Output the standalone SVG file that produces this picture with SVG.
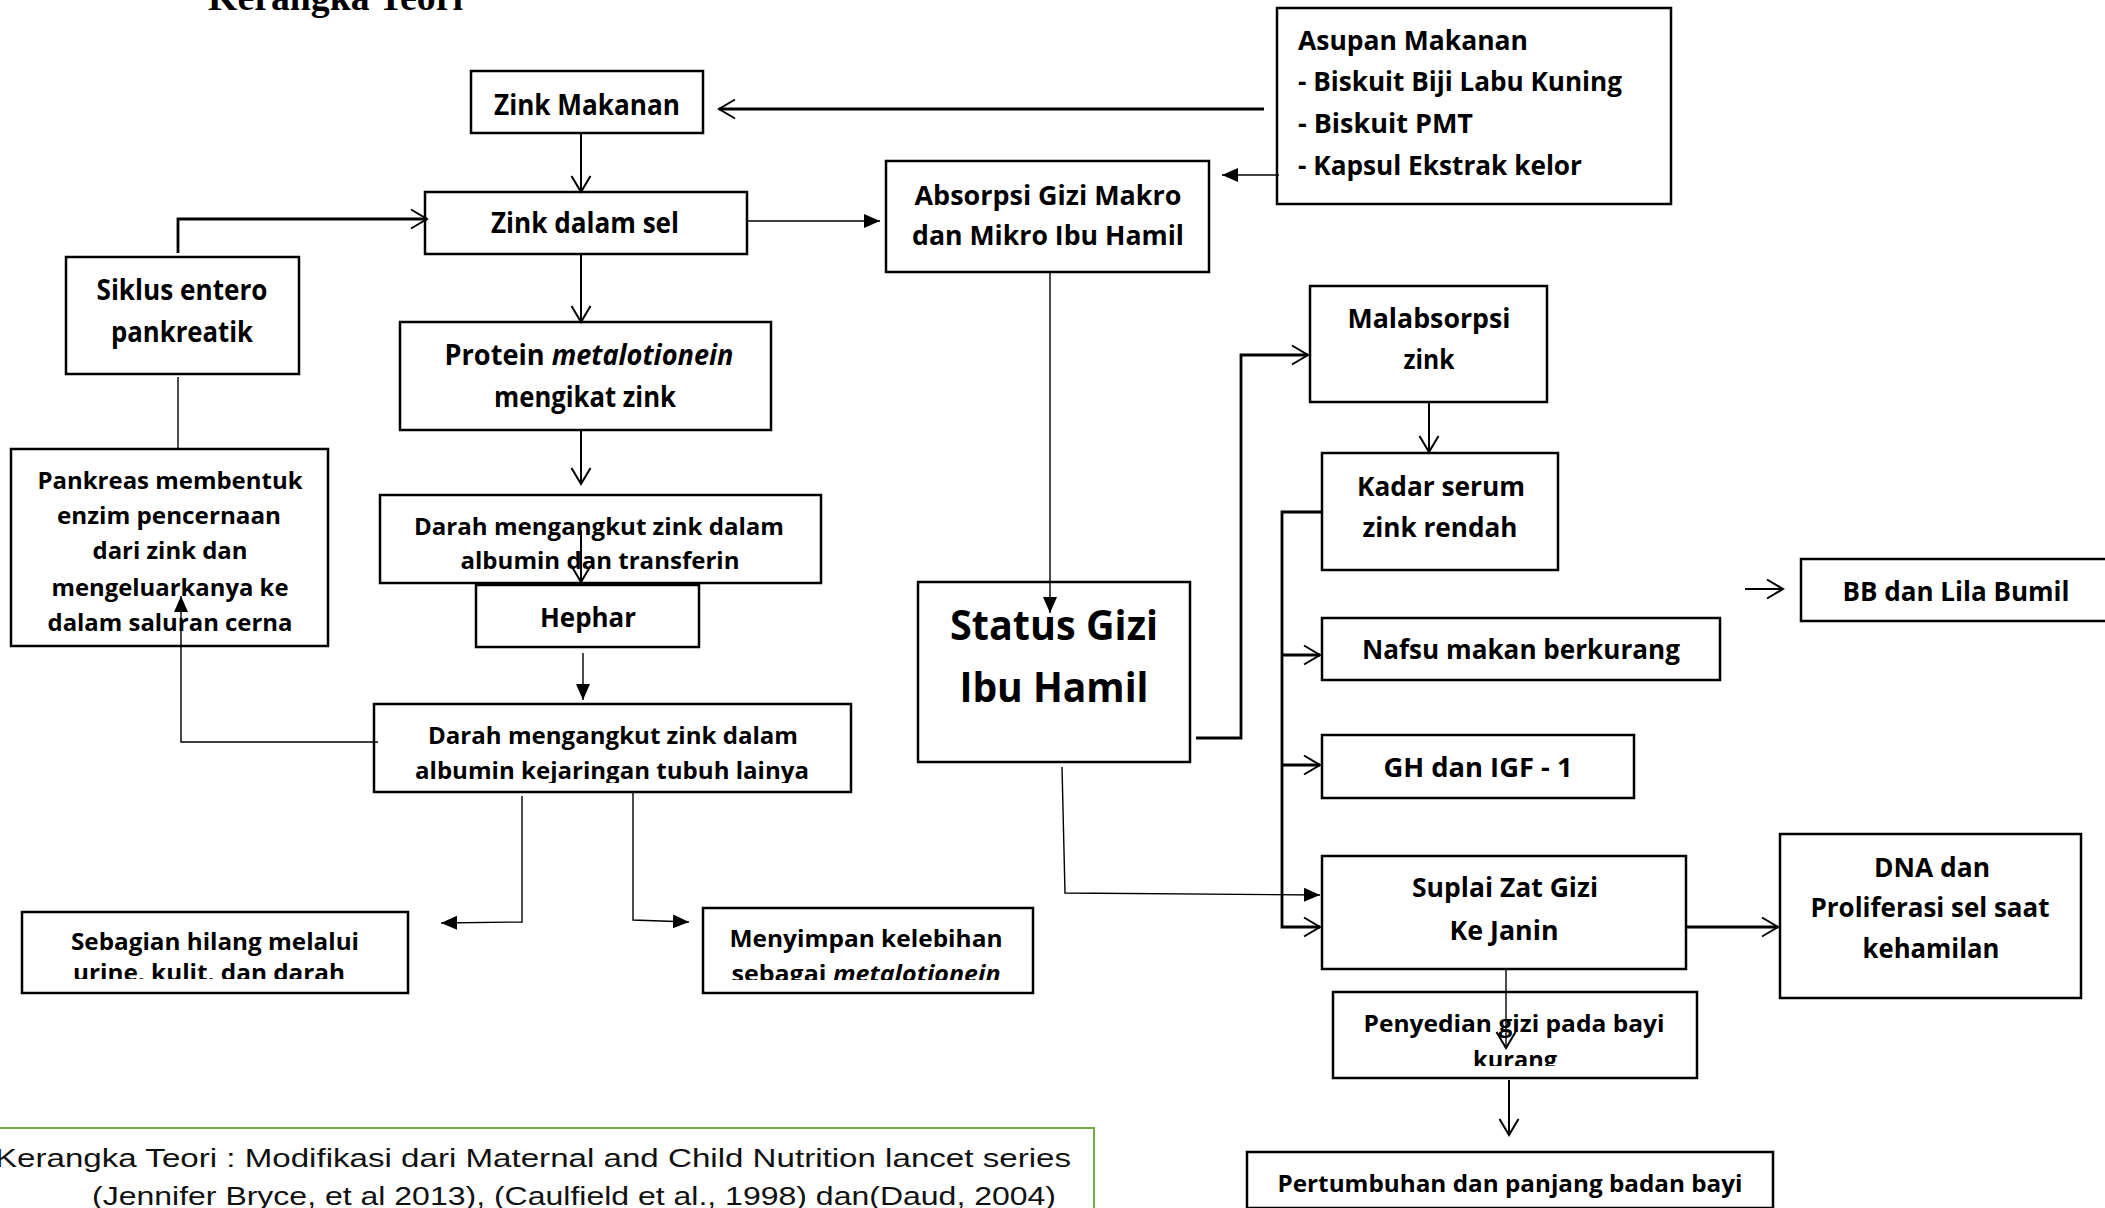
<svg xmlns="http://www.w3.org/2000/svg" width="2105" height="1208" viewBox="0 0 2105 1208">
<style>
.b{fill:#fff;stroke:#000;stroke-width:2.5}
.t{font-family:"Open Sans","Liberation Sans",sans-serif;font-weight:bold;fill:#000;text-anchor:middle}
.s28{font-size:28px}.s26{font-size:26px}.s24{font-size:24px}.s23{font-size:23px}
.l{text-anchor:start}
.c{fill:none;stroke:#000}
.th{stroke-width:1.4}.md{stroke-width:2}.tk{stroke-width:2.8}
.cap{font-family:"Liberation Sans",Arial,sans-serif;font-size:26px;fill:#111}
</style>
<defs>
<marker id="op" markerUnits="userSpaceOnUse" viewBox="0 0 20 22" markerWidth="20" markerHeight="22" refX="18" refY="11" orient="auto">
<path d="M2,1.5 L18,11 L2,20.5" fill="none" stroke="#000" stroke-width="2"/>
</marker>
<marker id="fl" markerUnits="userSpaceOnUse" viewBox="0 0 16 16" markerWidth="16" markerHeight="16" refX="16" refY="8" orient="auto">
<path d="M0,1 L16,8 L0,15 Z" fill="#000"/>
</marker>
<clipPath id="cD2"><rect x="0" y="0" width="2105" height="783"/></clipPath>
<clipPath id="cSb"><rect x="0" y="0" width="2105" height="979"/></clipPath>
<clipPath id="cMy"><rect x="0" y="0" width="2105" height="980"/></clipPath>
<clipPath id="cPy"><rect x="0" y="0" width="2105" height="1066"/></clipPath>
</defs>
<rect width="2105" height="1208" fill="#fff"/>
<text x="208" y="10" font-family="'Liberation Serif',serif" font-weight="bold" font-size="37" textLength="255" lengthAdjust="spacingAndGlyphs">Kerangka Teori</text>

<g id="zinkMakanan"><rect class="b" x="471" y="71" width="232" height="62"/><text class="t s28" x="587" y="115" textLength="186" lengthAdjust="spacingAndGlyphs">Zink Makanan</text></g>
<g id="asupan"><rect class="b" x="1277" y="8" width="394" height="196"/>
<text class="t s26 l" x="1298" y="50" textLength="230" lengthAdjust="spacingAndGlyphs">Asupan Makanan</text>
<text class="t s26 l" x="1298" y="91" textLength="324" lengthAdjust="spacingAndGlyphs">- Biskuit Biji Labu Kuning</text>
<text class="t s26 l" x="1298" y="133" textLength="175" lengthAdjust="spacingAndGlyphs">- Biskuit PMT</text>
<text class="t s26 l" x="1298" y="175" textLength="284" lengthAdjust="spacingAndGlyphs">- Kapsul Ekstrak kelor</text></g>
<g id="zinkSel"><rect class="b" x="425" y="192" width="322" height="62"/><text class="t s28" x="585" y="233" textLength="188" lengthAdjust="spacingAndGlyphs">Zink dalam sel</text></g>
<g id="absorpsi"><rect class="b" x="886" y="161" width="323" height="111"/>
<text class="t s26" x="1048" y="205" textLength="267" lengthAdjust="spacingAndGlyphs">Absorpsi Gizi Makro</text>
<text class="t s26" x="1048" y="245" textLength="272" lengthAdjust="spacingAndGlyphs">dan Mikro Ibu Hamil</text></g>
<g id="siklus"><rect class="b" x="66" y="257" width="233" height="117"/>
<text class="t s28" x="182" y="300" textLength="171" lengthAdjust="spacingAndGlyphs">Siklus entero</text>
<text class="t s28" x="182" y="342" textLength="142" lengthAdjust="spacingAndGlyphs">pankreatik</text></g>
<g id="protein"><rect class="b" x="400" y="322" width="371" height="108"/>
<text class="t s28" x="589" y="365" textLength="289" lengthAdjust="spacingAndGlyphs">Protein <tspan font-style="italic">metalotionein</tspan></text>
<text class="t s28" x="585" y="407" textLength="182" lengthAdjust="spacingAndGlyphs">mengikat zink</text></g>
<g id="pankreas"><rect class="b" x="11" y="449" width="317" height="197"/>
<text class="t s24" x="170" y="489" textLength="265" lengthAdjust="spacingAndGlyphs">Pankreas membentuk</text>
<text class="t s24" x="169" y="524" textLength="224" lengthAdjust="spacingAndGlyphs">enzim pencernaan</text>
<text class="t s24" x="170" y="559" textLength="155" lengthAdjust="spacingAndGlyphs">dari zink dan</text>
<text class="t s24" x="170" y="596" textLength="237" lengthAdjust="spacingAndGlyphs">mengeluarkanya ke</text>
<text class="t s24" x="170" y="631" textLength="245" lengthAdjust="spacingAndGlyphs">dalam saluran cerna</text></g>
<g id="darah1"><rect class="b" x="380" y="495" width="441" height="88"/>
<text class="t s24" x="599" y="535" textLength="370" lengthAdjust="spacingAndGlyphs">Darah mengangkut zink dalam</text>
<text class="t s24" x="600" y="569" textLength="279" lengthAdjust="spacingAndGlyphs">albumin dan transferin</text></g>
<g id="hephar"><rect class="b" x="476" y="585" width="223" height="62"/><text class="t s26" x="588" y="627" textLength="96" lengthAdjust="spacingAndGlyphs">Hephar</text></g>
<g id="darah2"><rect class="b" x="374" y="704" width="477" height="88"/>
<text class="t s24" x="613" y="744" textLength="370" lengthAdjust="spacingAndGlyphs">Darah mengangkut zink dalam</text>
<text class="t s24" x="612" y="779" textLength="394" lengthAdjust="spacingAndGlyphs" clip-path="url(#cD2)">albumin kejaringan tubuh lainya</text></g>
<g id="sebagian"><rect class="b" x="22" y="912" width="386" height="81"/>
<text class="t s23" x="215" y="950" textLength="288" lengthAdjust="spacingAndGlyphs">Sebagian hilang melalui</text>
<text class="t s23" x="209" y="981" textLength="272" lengthAdjust="spacingAndGlyphs" clip-path="url(#cSb)">urine, kulit, dan darah</text></g>
<g id="menyimpan"><rect class="b" x="703" y="908" width="330" height="85"/>
<text class="t s23" x="866" y="947" textLength="273" lengthAdjust="spacingAndGlyphs">Menyimpan kelebihan</text>
<text class="t s23" x="866" y="982" textLength="269" lengthAdjust="spacingAndGlyphs" clip-path="url(#cMy)">sebagai <tspan font-style="italic">metalotionein</tspan></text></g>
<g id="status"><rect class="b" x="918" y="582" width="272" height="180"/>
<text class="t" font-size="42" x="1054" y="640" textLength="208" lengthAdjust="spacingAndGlyphs">Status Gizi</text>
<text class="t" font-size="42" x="1054" y="702" textLength="189" lengthAdjust="spacingAndGlyphs">Ibu Hamil</text></g>
<g id="malabsorpsi"><rect class="b" x="1310" y="286" width="237" height="116"/>
<text class="t s26" x="1429" y="328" textLength="163" lengthAdjust="spacingAndGlyphs">Malabsorpsi</text>
<text class="t s26" x="1429" y="369" textLength="51" lengthAdjust="spacingAndGlyphs">zink</text></g>
<g id="kadar"><rect class="b" x="1322" y="453" width="236" height="117"/>
<text class="t s26" x="1441" y="496" textLength="168" lengthAdjust="spacingAndGlyphs">Kadar serum</text>
<text class="t s26" x="1440" y="537" textLength="155" lengthAdjust="spacingAndGlyphs">zink rendah</text></g>
<g id="bb"><rect class="b" x="1801" y="559" width="320" height="62"/><text class="t s26" x="1956" y="601" textLength="227" lengthAdjust="spacingAndGlyphs">BB dan Lila Bumil</text></g>
<g id="nafsu"><rect class="b" x="1322" y="618" width="398" height="62"/><text class="t s26" x="1521" y="659" textLength="318" lengthAdjust="spacingAndGlyphs">Nafsu makan berkurang</text></g>
<g id="gh"><rect class="b" x="1322" y="735" width="312" height="63"/><text class="t s26" x="1478" y="777" textLength="189" lengthAdjust="spacingAndGlyphs">GH dan IGF - 1</text></g>
<g id="suplai"><rect class="b" x="1322" y="856" width="364" height="113"/>
<text class="t s26" x="1505" y="897" textLength="186" lengthAdjust="spacingAndGlyphs">Suplai Zat Gizi</text>
<text class="t s26" x="1504" y="940" textLength="109" lengthAdjust="spacingAndGlyphs">Ke Janin</text></g>
<g id="dna"><rect class="b" x="1780" y="834" width="301" height="164"/>
<text class="t s26" x="1932" y="877" textLength="116" lengthAdjust="spacingAndGlyphs">DNA dan</text>
<text class="t s26" x="1930" y="917" textLength="239" lengthAdjust="spacingAndGlyphs">Proliferasi sel saat</text>
<text class="t s26" x="1931" y="958" textLength="137" lengthAdjust="spacingAndGlyphs">kehamilan</text></g>
<g id="penyedian"><rect class="b" x="1333" y="992" width="364" height="86"/>
<text class="t s23" x="1514" y="1032" textLength="301" lengthAdjust="spacingAndGlyphs">Penyedian gizi pada bayi</text>
<text class="t s23" x="1515" y="1068" textLength="84" lengthAdjust="spacingAndGlyphs" clip-path="url(#cPy)">kurang</text></g>
<g id="pertumbuhan"><rect class="b" x="1247" y="1152" width="526" height="56"/><text class="t s23" x="1510" y="1192" textLength="465" lengthAdjust="spacingAndGlyphs">Pertumbuhan dan panjang badan bayi</text></g>
<g id="caption"><rect x="-2" y="1128" width="1096" height="100" fill="none" stroke="#70AD47" stroke-width="2"/>
<text class="cap" x="-5" y="1167" textLength="1076" lengthAdjust="spacingAndGlyphs">Kerangka Teori : Modifikasi dari Maternal and Child Nutrition lancet series</text>
<text class="cap" x="92" y="1205" textLength="964" lengthAdjust="spacingAndGlyphs">(Jennifer Bryce, et al 2013), (Caulfield et al., 1998) dan(Daud, 2004)</text></g>

<g id="connectors">
<path class="c tk" d="M1264,109 L719,109" marker-end="url(#op)"/>
<path class="c md" d="M581,133 L581,192" marker-end="url(#op)"/>
<path class="c tk" d="M178,253 L178,219 L427,219" marker-end="url(#op)"/>
<path class="c th" d="M747,221 L880,221" marker-end="url(#fl)"/>
<path class="c md" d="M581,254 L581,322" marker-end="url(#op)"/>
<path class="c th" d="M1279,175 L1222,175" marker-end="url(#fl)"/>
<path class="c th" d="M1050,272 L1050,613" marker-end="url(#fl)"/>
<path class="c th" d="M178,377 L178,450"/>
<path class="c md" d="M581,430 L581,484" marker-end="url(#op)"/>
<path class="c md" d="M581,530 L581,582" marker-end="url(#op)"/>
<path class="c th" d="M583,653 L583,700" marker-end="url(#fl)"/>
<path class="c th" d="M378,742 L181,742 L181,596" marker-end="url(#fl)"/>
<path class="c th" d="M522,796 L522,922 L441,923" marker-end="url(#fl)"/>
<path class="c th" d="M633,792 L633,920 L689,922" marker-end="url(#fl)"/>
<path class="c tk" d="M1196,738 L1241,738 L1241,355 L1308,355" marker-end="url(#op)"/>
<path class="c md" d="M1429,402 L1429,452" marker-end="url(#op)"/>
<path class="c tk" d="M1322,512 L1282,512 L1282,927 L1320,927" marker-end="url(#op)"/>
<path class="c tk" d="M1282,655 L1320,655" marker-end="url(#op)"/>
<path class="c tk" d="M1282,765 L1320,765" marker-end="url(#op)"/>
<path class="c md" d="M1745,589 L1783,589" marker-end="url(#op)"/>
<path class="c th" d="M1062,767 L1065,893 L1320,895" marker-end="url(#fl)"/>
<path class="c tk" d="M1686,927 L1778,927" marker-end="url(#op)"/>
<path class="c th" d="M1506,969 L1506,1048" marker-end="url(#op)"/>
<path class="c md" d="M1509,1080 L1509,1135" marker-end="url(#op)"/>
</g>
</svg>
